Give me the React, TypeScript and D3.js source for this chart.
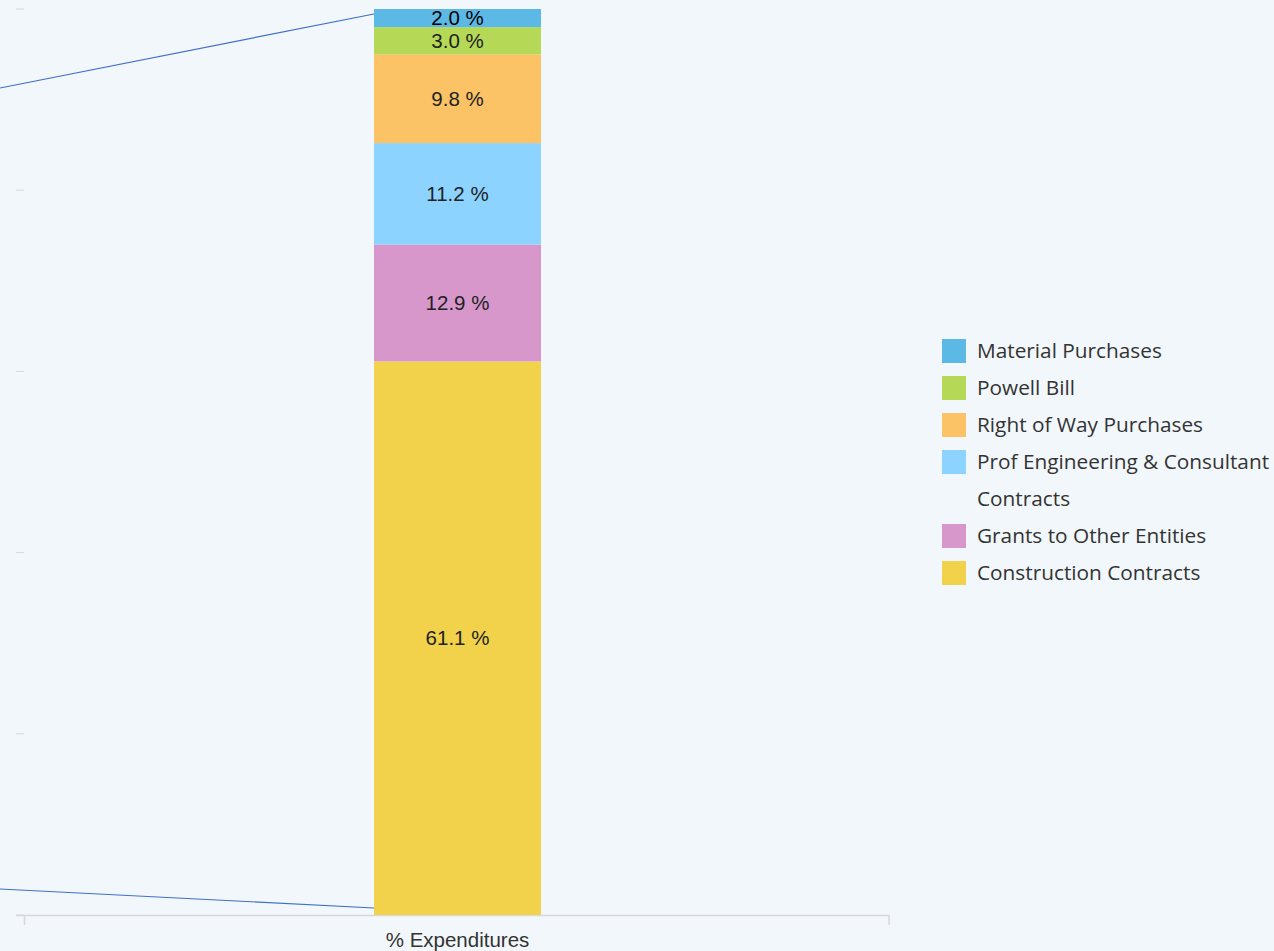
import React from "react";
import * as d3 from "d3";

const categories = [
  "Material Purchases",
  "Powell Bill",
  "Right of Way Purchases",
  "Prof Engineering & Consultant Contracts",
  "Grants to Other Entities",
  "Construction Contracts",
];
const values = [2.0, 3.0, 9.8, 11.2, 12.9, 61.1];
const colors = ["#5cb9e6", "#b5d957", "#fbc366", "#8dd3ff", "#d797cb", "#f2d24a"];
const legendLines = [
  ["Material Purchases"],
  ["Powell Bill"],
  ["Right of Way Purchases"],
  ["Prof Engineering & Consultant", "Contracts"],
  ["Grants to Other Entities"],
  ["Construction Contracts"],
];
const yTicks = [0, 20, 40, 60, 80, 100];
const xCategory = ["% Expenditures"];

const W = 1274;
const H = 951;

export default function App() {
  const y = d3.scaleLinear().domain([0, 100]).range([915, 9]);
  const x = d3.scaleBand().domain(xCategory).range([24, 889]).paddingInner(0).paddingOuter(0);
  const bx = 374;
  const bw = 167;

  const stackOrder = [...values.keys()].reverse();
  let acc = 0;
  const segs: { i: number; y0: number; y1: number }[] = [];
  stackOrder.forEach((i) => {
    segs.push({ i, y0: acc, y1: acc + values[i] });
    acc += values[i];
  });

  const line = d3.line<[number, number]>();
  const topConn: [number, number][] = [[0, 88], [bx, y(99.45)]];
  const botConn: [number, number][] = [[0, 889], [bx, y(0.77)]];

  let ly = 351;
  const legendItems = legendLines.map((lines, i) => {
    const item = { lines, i, y: ly };
    ly += 37 * lines.length;
    return item;
  });

  return (
    <svg
      width={W}
      height={H}
      style={{ position: "absolute", left: 0, top: 0, background: "#f2f7fb" }}
    >
      <rect x={0} y={0} width={W} height={H} fill="#f2f7fb" />
      {yTicks.map((t) => (
        <line key={t} x1={16} x2={24} y1={y(t)} y2={y(t)} stroke="#d8d8d8" strokeWidth={1} />
      ))}
      <line x1={16} x2={889} y1={915.5} y2={915.5} stroke="#d8d8d8" strokeWidth={1.5} />
      <line x1={24.5} x2={24.5} y1={915} y2={925} stroke="#d8d8d8" strokeWidth={1.5} />
      <line x1={889} x2={889} y1={915} y2={925} stroke="#d8d8d8" strokeWidth={1.5} />
      {segs.map((s) => (
        <rect
          key={s.i}
          x={bx}
          y={y(s.y1)}
          width={bw}
          height={y(s.y0) - y(s.y1)}
          fill={colors[s.i]}
        />
      ))}
      {segs.map((s) => (
        <text
          key={"t" + s.i}
          x={bx + bw / 2}
          y={(y(s.y0) + y(s.y1)) / 2}
          dy="0.35em"
          textAnchor="middle"
          fontFamily="Liberation Sans, Arial, sans-serif"
          fontSize={20.5}
          fill={s.i === 0 ? "#000" : "#222"}
        >
          {values[s.i].toFixed(1) + " %"}
        </text>
      ))}
      <path d={line(topConn) || ""} stroke="#3f6fcc" strokeWidth={1.2} fill="none" />
      <path d={line(botConn) || ""} stroke="#3f6fcc" strokeWidth={1.2} fill="none" />
      <text
        x={(x("% Expenditures") || 0) + x.bandwidth() / 2 + 1}
        y={947}
        textAnchor="middle"
        fontFamily="Liberation Sans, Arial, sans-serif"
        fontSize={20.5}
        fill="#333"
      >
        {xCategory[0]}
      </text>
      {legendItems.map((it) => (
        <g key={"l" + it.i}>
          <rect x={942} y={it.y - 12} width={24} height={24} fill={colors[it.i]} />
          {it.lines.map((ln, k) => (
            <text
              key={k}
              x={977}
              y={it.y + 37 * k}
              dy="0.35em"
              fontFamily="Open Sans, sans-serif"
              fontSize={20.8}
              fill="#333"
            >
              {ln}
            </text>
          ))}
        </g>
      ))}
      <title>{categories.join(", ")}</title>
    </svg>
  );
}
